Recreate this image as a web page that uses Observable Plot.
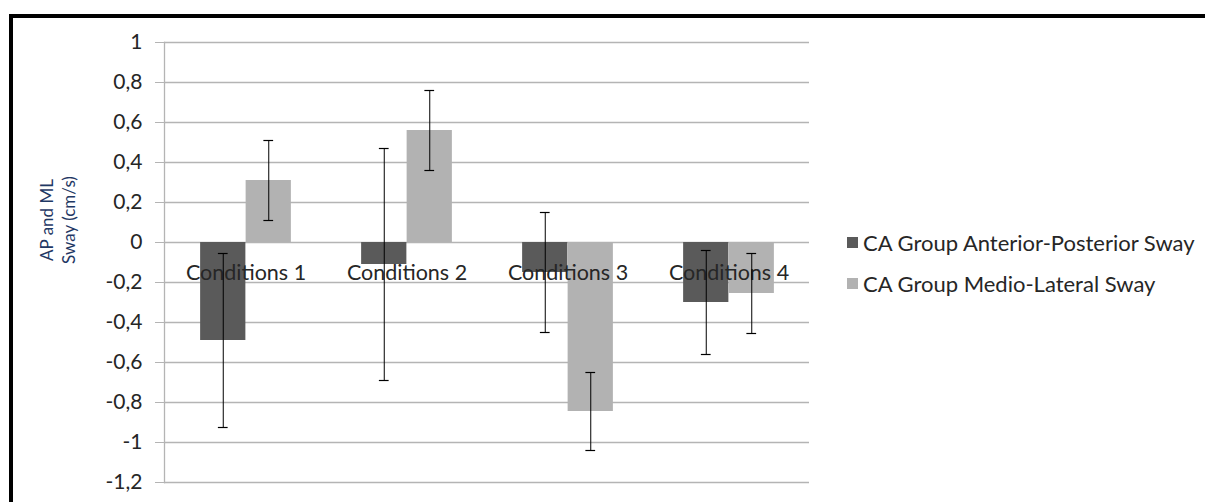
<!DOCTYPE html>
<html>
<head>
<meta charset="utf-8">
<script src="https://cdn.jsdelivr.net/npm/d3@7"></script>
<script src="https://cdn.jsdelivr.net/npm/@observablehq/plot@0.6"></script>
<style>
  html, body { margin: 0; padding: 0; background: #fff; }
  #wrap { position: relative; width: 1205px; height: 502px; overflow: hidden; font-family: Lato, "Open Sans", sans-serif; }
  #border { position: absolute; left: 9px; top: 14px; width: 1300px; height: 600px; border-top: 4px solid #000; border-left: 4px solid #000; box-sizing: border-box; pointer-events: none; }
  #ytitle { position: absolute; left: 58px; top: 220px; transform: translate(-50%, -50%) rotate(-90deg); color: #1f3864; font-size: 17px; line-height: 22px; text-align: center; white-space: nowrap; }
  .leg { position: absolute; left: 847px; font-size: 22px; color: #262626; white-space: nowrap; display: flex; align-items: center; }
  .leg span.sw { display: inline-block; width: 11px; height: 11px; margin-right: 5px; }
  #chart { position: absolute; left: 0; top: 0; }
</style>
</head>
<body>
<div id="wrap">
  <div id="chart"></div>
  <div id="ytitle">AP and ML<br>Sway (cm/s)</div>
  <div id="legend"></div>
  <div id="border"></div>
</div>
<script>
const conditions = ["Conditions 1", "Conditions 2", "Conditions 3", "Conditions 4"];
const seriesNames = ["CA Group Anterior-Posterior Sway", "CA Group Medio-Lateral Sway"];
const apMean = [-0.49, -0.11, -0.15, -0.30];
const apErr  = [0.435, 0.58, 0.30, 0.26];
const mlMean = [0.31, 0.56, -0.845, -0.255];
const mlErr  = [0.20, 0.20, 0.195, 0.20];
const yTicks = [1, 0.8, 0.6, 0.4, 0.2, 0, -0.2, -0.4, -0.6, -0.8, -1, -1.2];
const colors = ["#5a5a5a", "#b2b2b2"];

const W = 1205, H = 502;
const mL = 164, mR = 396, mT = 42, mB = 20;
const B = (W - mL - mR) / conditions.length; // band width
const barW = 45.5;
const capW = 10;

const rows = [];
conditions.forEach((c, i) => {
  rows.push({cond: c, series: 0, v: apMean[i], lo: apMean[i] - apErr[i], hi: apMean[i] + apErr[i]});
  rows.push({cond: c, series: 1, v: mlMean[i], lo: mlMean[i] - mlErr[i], hi: mlMean[i] + mlErr[i]});
});
const s0 = rows.filter(d => d.series === 0);
const s1 = rows.filter(d => d.series === 1);

const fmt = d => String(Number(d.toFixed(1))).replace(".", ",");

const errMarks = (data, off) => [
  Plot.ruleX(data, {x: "cond", y1: "lo", y2: "hi", dx: off, stroke: "#000", strokeWidth: 1}),
  Plot.tickY(data, {x: "cond", y: "hi", stroke: "#000", strokeWidth: 1.2,
    insetLeft: B / 2 + off - capW / 2, insetRight: B / 2 - off - capW / 2}),
  Plot.tickY(data, {x: "cond", y: "lo", stroke: "#000", strokeWidth: 1.2,
    insetLeft: B / 2 + off - capW / 2, insetRight: B / 2 - off - capW / 2})
];

const chart = Plot.plot({
  width: W, height: H,
  marginLeft: mL, marginRight: mR, marginTop: mT, marginBottom: mB,
  style: {fontFamily: "Lato, 'Open Sans', sans-serif", fontSize: "21px", color: "#262626", background: "transparent"},
  x: {domain: conditions, padding: 0, axis: null},
  y: {domain: [-1.2, 1], ticks: yTicks, tickFormat: fmt, label: null},
  marks: [
    Plot.gridY(yTicks, {stroke: "#b4b4b4", strokeOpacity: 1, strokeWidth: 1.3}),
    Plot.axisY(yTicks, {tickFormat: fmt, tickSize: 9, tickPadding: 13, stroke: "#b4b4b4", fontSize: 21, label: null}),
    Plot.frame({anchor: "left", stroke: "#b4b4b4", strokeWidth: 1.3}),
    Plot.barY(s0, {x: "cond", y: "v", fill: colors[0], insetLeft: B / 2 - barW, insetRight: B / 2}),
    Plot.barY(s1, {x: "cond", y: "v", fill: colors[1], insetLeft: B / 2, insetRight: B / 2 - barW}),
    Plot.text(conditions, {x: d => d, y: () => 0, text: d => d, dy: 31, fontSize: 21.5, fill: "#262626"}),
    ...errMarks(s0, -barW / 2),
    ...errMarks(s1, barW / 2)
  ]
});
document.getElementById("chart").appendChild(chart);

const legend = document.getElementById("legend");
const legTops = [242, 283];
seriesNames.forEach((name, i) => {
  const div = document.createElement("div");
  div.className = "leg";
  div.style.top = (legTops[i] - 13) + "px";
  div.style.height = "26px";
  div.innerHTML = `<span class="sw" style="background:${colors[i]}"></span><span>${name}</span>`;
  legend.appendChild(div);
});
</script>
</body>
</html>
